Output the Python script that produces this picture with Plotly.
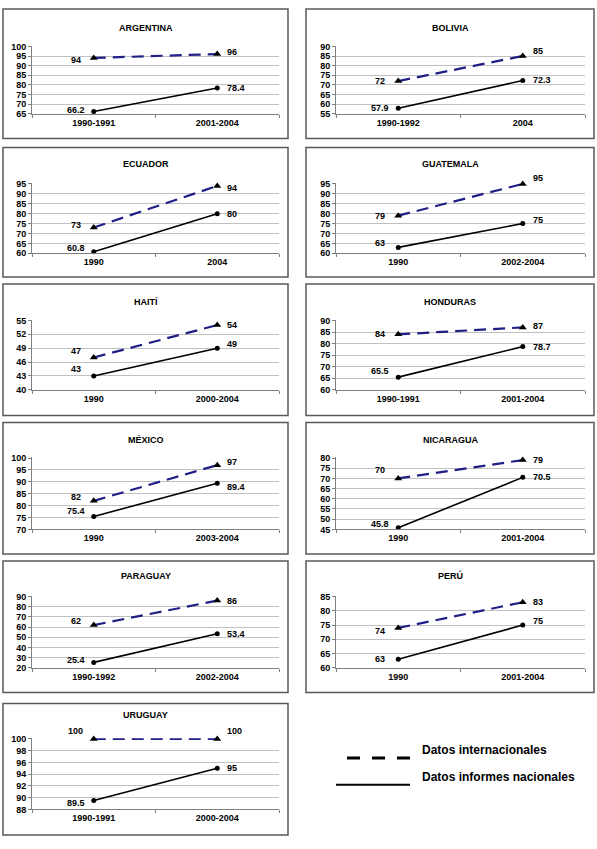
import plotly.graph_objects as go

# ---------------- data ----------------
countries = ["ARGENTINA", "BOLIVIA", "ECUADOR", "GUATEMALA", "HAITÍ", "HONDURAS",
             "MÉXICO", "NICARAGUA", "PARAGUAY", "PERÚ", "URUGUAY"]
periods = [["1990-1991", "2001-2004"], ["1990-1992", "2004"], ["1990", "2004"],
           ["1990", "2002-2004"], ["1990", "2000-2004"], ["1990-1991", "2001-2004"],
           ["1990", "2003-2004"], ["1990", "2001-2004"], ["1990-1992", "2002-2004"],
           ["1990", "2001-2004"], ["1990-1991", "2000-2004"]]
intl = [[94, 96], [72, 85], [73, 94], [79, 95], [47, 54], [84, 87],
        [82, 97], [70, 79], [62, 86], [74, 83], [100, 100]]
natl = [[66.2, 78.4], [57.9, 72.3], [60.8, 80], [63, 75], [43, 49], [65.5, 78.7],
        [75.4, 89.4], [45.8, 70.5], [25.4, 53.4], [63, 75], [89.5, 95]]
y_min = [65, 55, 60, 60, 40, 60, 70, 45, 20, 60, 88]
y_max = [100, 90, 95, 95, 55, 90, 100, 80, 90, 85, 100]
y_step = [5, 5, 5, 5, 3, 5, 5, 5, 10, 5, 2]
legend_labels = ["Datos internacionales", "Datos informes nacionales"]

# ---------------- styles / geometry (pixels) ----------------
W, H = 597, 849
col_plot = [(32, 279), (336, 585)]
col_box = [(3, 288), (306, 594)]
row_plot = [(42, 111), (181, 252), (319, 390), (458, 531), (598, 671), (742, 814)]
row_box = [(5, 136), (145, 276), (283, 416), (423, 556), (563, 696), (707, 840)]
row_title = [24, 162, 301, 441, 578, 719]
# label vertical shifts [intl0, intl1, natl0, natl1]
lab_dy = [[-2, 2, 2, 0], [0, 5, 0, 0], [3, -2, 4, 0], [0, 6, 4, 4], [6, 0, 7, 4],
          [0, 1, 6, 0], [4, 3, 6, -4], [8, 0, 4, 0], [4, 0, 2, 0], [-3, 0, 0, 4],
          [8, 8, -2, 0]]

FONT = "Liberation Sans"
tickfont = dict(family=FONT, size=9, color="black", weight="bold")


def pxx(x):
    return x / W


def pyy(y):
    return 1 - y / H


fig = go.Figure()
layout = dict(width=W, height=H, margin=dict(l=0, r=0, t=0, b=0),
              paper_bgcolor="white", plot_bgcolor="white", showlegend=False)
shapes = []
annotations = []

for i, name in enumerate(countries):
    r, c = divmod(i, 2)
    n = i + 1
    xref = "x" if n == 1 else f"x{n}"
    yref = "y" if n == 1 else f"y{n}"
    xkey = "xaxis" if n == 1 else f"xaxis{n}"
    ykey = "yaxis" if n == 1 else f"yaxis{n}"
    x0, x1 = col_plot[c]
    top, bot = row_plot[r]
    span = y_max[i] - y_min[i]

    layout[xkey] = dict(domain=[pxx(x0), pxx(x1)], anchor=yref, type="category",
                        categoryorder="array", categoryarray=periods[i],
                        range=[-0.5, 1.5], tickson="boundaries", ticks="outside",
                        ticklen=3, tickcolor="#808080", showline=True,
                        linecolor="#808080", linewidth=1, showgrid=False,
                        tickfont=tickfont, fixedrange=True)
    layout[ykey] = dict(domain=[pyy(bot), pyy(top)], anchor=xref,
                        range=[y_min[i], y_max[i] + span * 0.012],
                        tick0=y_min[i], dtick=y_step[i],
                        showgrid=True, gridcolor="#c0c0c0", gridwidth=1,
                        showline=True, linecolor="#808080", linewidth=1,
                        ticks="outside", ticklen=3, tickcolor="#808080",
                        zeroline=False, tickfont=tickfont, fixedrange=True)

    fig.add_trace(go.Scatter(x=periods[i], y=intl[i], xaxis=xref, yaxis=yref,
                             mode="lines+markers", cliponaxis=False,
                             line=dict(color="#1f1f86", width=2.2, dash="12px,7px"),
                             marker=dict(symbol="triangle-up", size=7, color="black"),
                             hoverinfo="skip"))
    fig.add_trace(go.Scatter(x=periods[i], y=natl[i], xaxis=xref, yaxis=yref,
                             mode="lines+markers", cliponaxis=False,
                             line=dict(color="black", width=1.6),
                             marker=dict(symbol="circle", size=5, color="black"),
                             hoverinfo="skip"))

    for k, series in enumerate([intl[i], natl[i]]):
        for j in range(2):
            v = series[j]
            annotations.append(dict(
                x=j, y=v, xref=xref, yref=yref, text=f"{v:g}",
                showarrow=False, font=tickfont,
                xanchor="center" if j == 0 else "left",
                xshift=-18 if j == 0 else 8,
                yshift=lab_dy[i][k * 2 + j]))

    bx0, bx1 = col_box[c]
    by0, by1 = row_box[r]
    shapes.append(dict(type="rect", xref="paper", yref="paper",
                       x0=pxx(bx0), x1=pxx(bx1), y0=pyy(by1), y1=pyy(by0),
                       line=dict(color="#595959", width=1.5)))
    annotations.append(dict(x=pxx((bx0 + bx1) / 2), y=pyy(row_title[r]),
                            xref="paper", yref="paper", text=name, showarrow=False,
                            xanchor="center", yanchor="middle", font=tickfont))

# legend
shapes.append(dict(type="line", xref="paper", yref="paper",
                   x0=pxx(347), x1=pxx(410), y0=pyy(762), y1=pyy(762),
                   line=dict(color="black", width=3, dash="13px,12px")))
shapes.append(dict(type="line", xref="paper", yref="paper",
                   x0=pxx(336), x1=pxx(410), y0=pyy(789), y1=pyy(789),
                   line=dict(color="black", width=2)))
for lab, yy in zip(legend_labels, [754, 781]):
    annotations.append(dict(x=pxx(420), y=pyy(yy), xref="paper", yref="paper",
                            text=lab, showarrow=False, xanchor="left",
                            yanchor="middle",
                            font=dict(family=FONT, size=12, color="black",
                                      weight="bold")))

layout["shapes"] = shapes
layout["annotations"] = annotations
fig.update_layout(**layout)
fig.write_html("out.html")
